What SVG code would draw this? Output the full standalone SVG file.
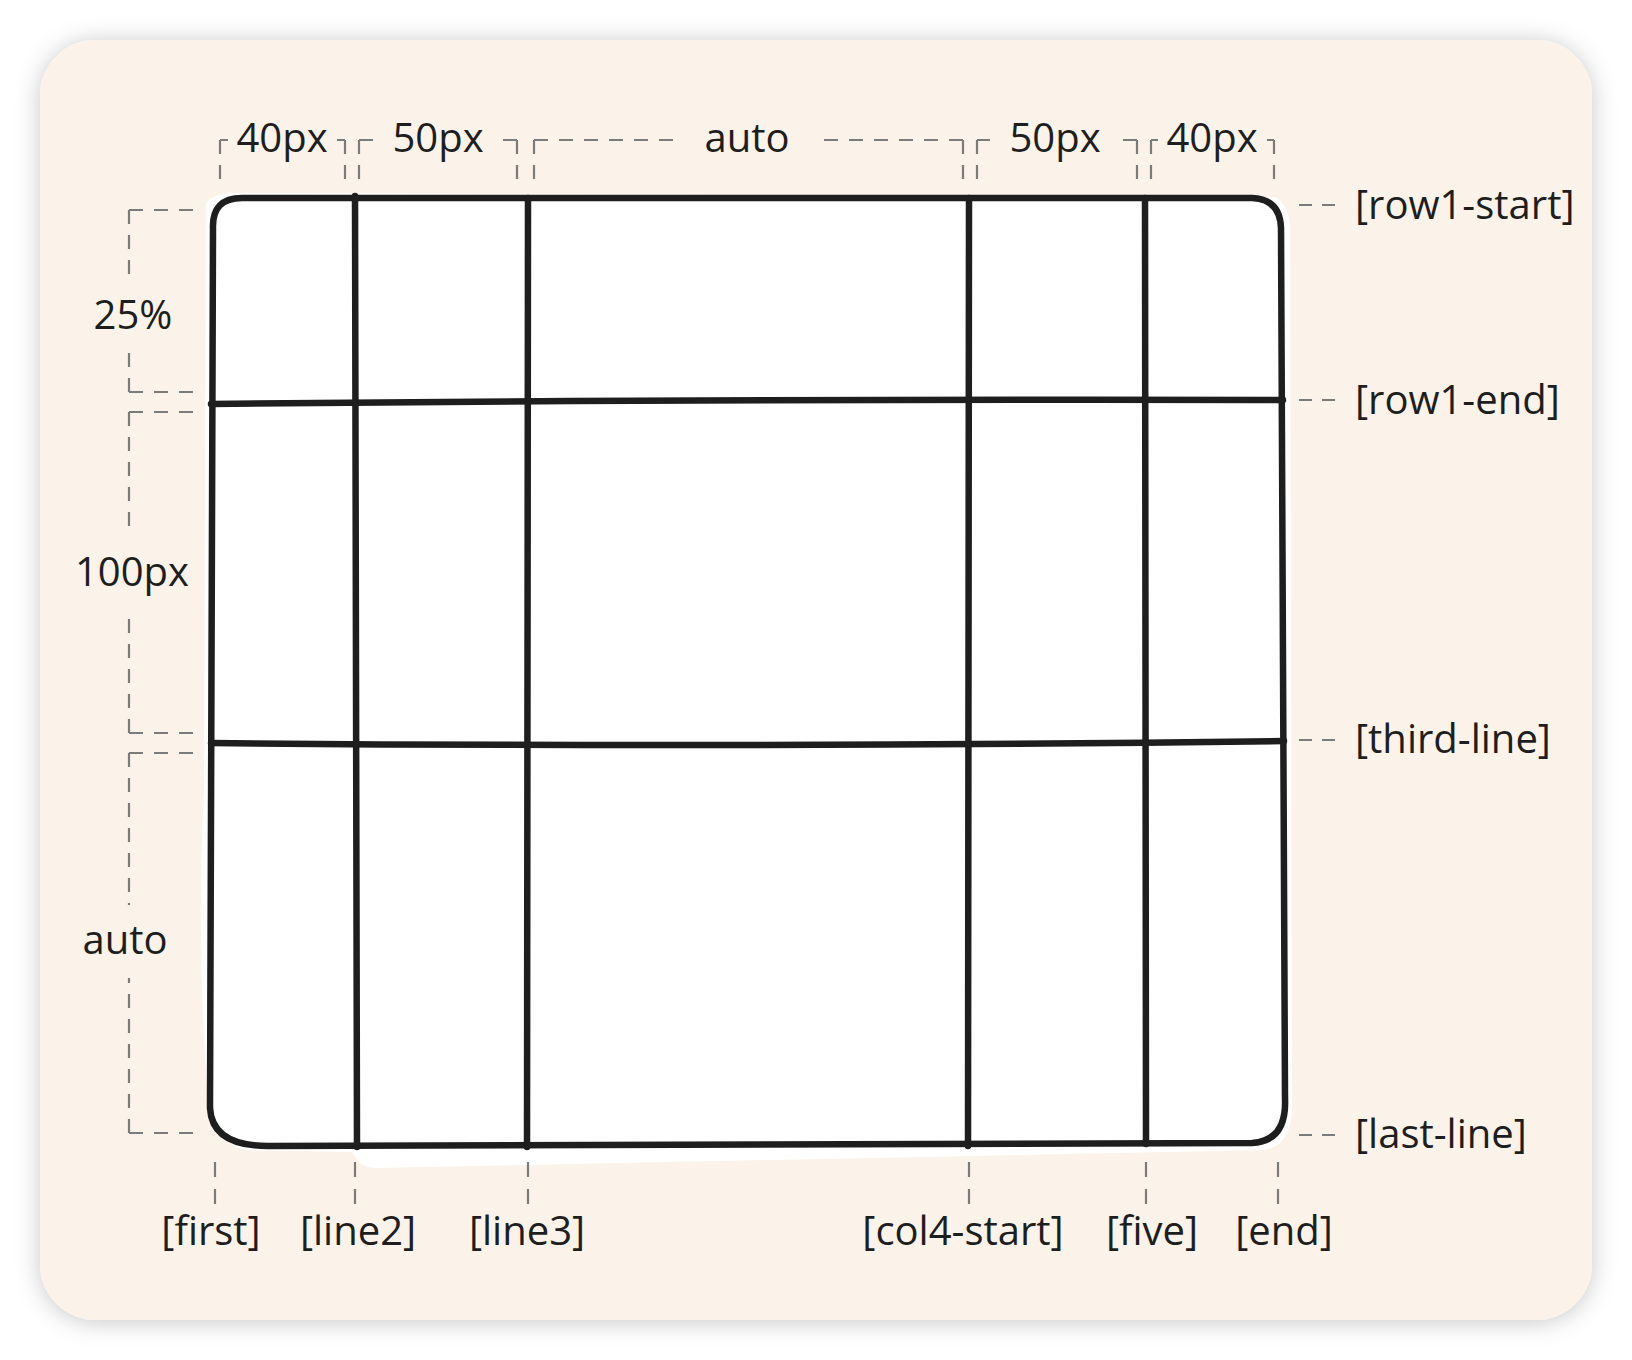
<svg xmlns="http://www.w3.org/2000/svg" width="1632" height="1360" viewBox="0 0 1632 1360">
<defs>
<filter id="sh" x="-10%" y="-10%" width="120%" height="120%">
<feDropShadow dx="0" dy="2" stdDeviation="12" flood-color="#000" flood-opacity="0.22"/>
</filter>
<style>
.t{font-family:"Open Sans","Liberation Sans",sans-serif;font-size:40px;fill:#1e1e1e}
.m{text-anchor:middle}
.d{fill:none;stroke:#7b7b7b;stroke-width:2.2;stroke-dasharray:14 11}
.g{fill:none;stroke:#1e1e1e;stroke-width:6.5;stroke-linecap:round;stroke-linejoin:round}
</style>
</defs>
<rect x="40" y="40" width="1552" height="1280" rx="56" fill="#fbf3e9" filter="url(#sh)"/>
<g id="grid">
<path d="M206 205 Q210 192 240 193 L1275 197 Q1290 205 1290 230 L1292 1110 Q1290 1148 1262 1150 L375 1168 Q360 1168 352 1152 L245 1150 Q212 1140 208 1100 Q196 950 204 790 Z" fill="#fff"/>
<path class="g" d="M213 228 Q212 198 242 198 L1252 198 Q1280 199 1281 228 L1285 1098 Q1287 1141 1252 1143 L268 1146 Q212 1146 210 1108 Z"/>
<path class="g" d="M211 404 Q700 399 1283 400"/>
<path class="g" d="M211 743 Q750 748 1284 741"/>
<path class="g" d="M355 196 L357 1147"/>
<path class="g" d="M528 198 L527 1147"/>
<path class="g" d="M969 198 L968 1146"/>
<path class="g" d="M1145 198 L1146 1144"/>
</g>
<g id="top-dims">
<path class="d" d="M220 140 H228 M220 140 V180"/><path class="d" d="M345 140 H337 M345 140 V180"/>
<text class="t m" x="282" y="152">40px</text>
<path class="d" d="M359 140 H373 M359 140 V180"/><path class="d" d="M517 140 H503 M517 140 V180"/>
<text class="t m" x="438" y="152">50px</text>
<path class="d" d="M534 140 H684 M534 140 V180"/><path class="d" d="M963 140 H814 M963 140 V180"/>
<text class="t m" x="747" y="152">auto</text>
<path class="d" d="M977 140 H990 M977 140 V180"/><path class="d" d="M1137 140 H1120 M1137 140 V180"/>
<text class="t m" x="1055" y="152">50px</text>
<path class="d" d="M1151 140 H1158 M1151 140 V180"/><path class="d" d="M1274 140 H1267 M1274 140 V180"/>
<text class="t m" x="1212" y="152">40px</text>
</g>
<g id="left-dims">
<path class="d" d="M129 210 H196 M129 210 V275"/><path class="d" d="M129 392 H196 M129 392 V350"/>
<text class="t m" x="133" y="329">25%</text>
<path class="d" d="M129 412 H196 M129 412 V530"/><path class="d" d="M129 733 H196 M129 733 V612"/>
<text class="t m" x="132" y="586">100px</text>
<path class="d" d="M129 753 H196 M129 753 V905"/><path class="d" d="M129 1133 H196 M129 1133 V978"/>
<text class="t m" x="125" y="954">auto</text>
</g>
<g id="right-labels">
<path class="d" d="M1299 205 H1340" style="stroke-dasharray:13 10"/>
<text class="t" x="1355" y="219">[row1-start]</text>
<path class="d" d="M1299 400 H1340" style="stroke-dasharray:13 10"/>
<text class="t" x="1355" y="414">[row1-end]</text>
<path class="d" d="M1299 740 H1340" style="stroke-dasharray:13 10"/>
<text class="t" x="1355" y="753">[third-line]</text>
<path class="d" d="M1299 1135 H1340" style="stroke-dasharray:13 10"/>
<text class="t" x="1355" y="1148">[last-line]</text>
</g>
<g id="bottom-labels">
<path class="d" d="M215 1162 V1204" style="stroke-dasharray:15 12"/>
<path class="d" d="M355 1162 V1204" style="stroke-dasharray:15 12"/>
<path class="d" d="M528 1162 V1204" style="stroke-dasharray:15 12"/>
<path class="d" d="M969 1162 V1204" style="stroke-dasharray:15 12"/>
<path class="d" d="M1146 1162 V1204" style="stroke-dasharray:15 12"/>
<path class="d" d="M1278 1162 V1204" style="stroke-dasharray:15 12"/>
<text class="t m" x="211" y="1245">[first]</text>
<text class="t m" x="358" y="1245">[line2]</text>
<text class="t m" x="527" y="1245">[line3]</text>
<text class="t m" x="963" y="1245">[col4-start]</text>
<text class="t m" x="1152" y="1245">[five]</text>
<text class="t m" x="1284" y="1245">[end]</text>
</g>
</svg>
